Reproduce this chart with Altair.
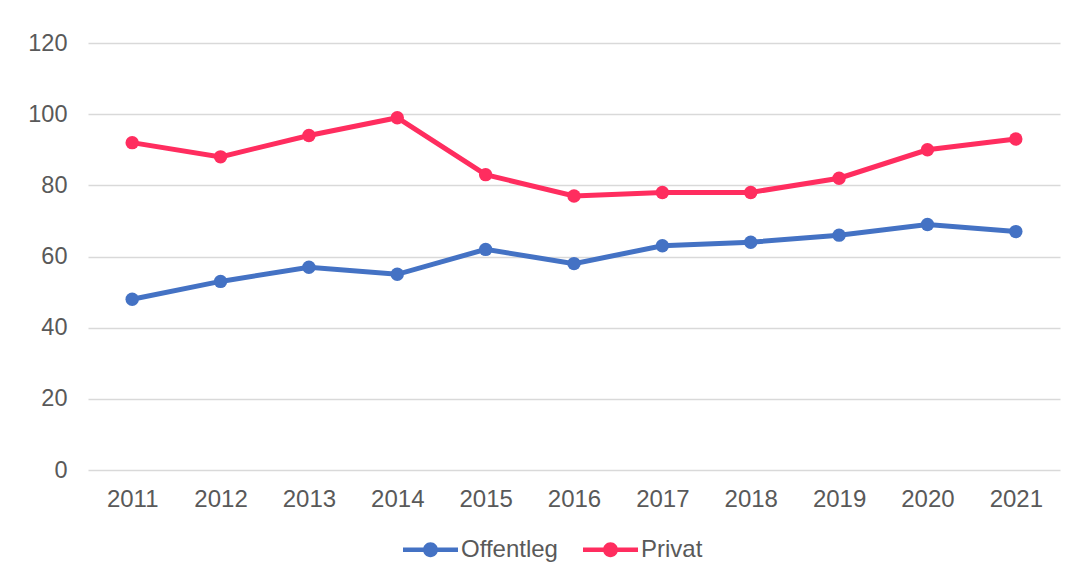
import altair as alt
import pandas as pd

years = [str(y) for y in range(2011, 2022)]
offentleg = [48, 53, 57, 55, 62, 58, 63, 64, 66, 69, 67]
privat = [92, 88, 94, 99, 83, 77, 78, 78, 82, 90, 93]
series = ["Offentleg", "Privat"]
colors = ["#4472C4", "#FF2D5F"]
y_ticks = [0, 20, 40, 60, 80, 100, 120]

rows = []
for i, yr in enumerate(years):
    rows.append({"year": yr, "series": "Offentleg", "value": offentleg[i]})
    rows.append({"year": yr, "series": "Privat", "value": privat[i]})
df = pd.DataFrame(rows)

FONT = "Liberation Sans"
TXT = "#595959"

x_enc = alt.X("year:N", sort=years, title=None,
              scale=alt.Scale(paddingInner=0, paddingOuter=0.5),
              axis=alt.Axis(labelAngle=0, domain=False, ticks=False, grid=False,
                            labelPadding=17, labelFontSize=24, labelColor=TXT, labelFont=FONT))
y_enc = alt.Y("value:Q", title=None,
              scale=alt.Scale(domain=[0, 120], nice=False),
              axis=alt.Axis(values=y_ticks, domain=False, ticks=False, grid=True,
                            gridColor="#D9D9D9", gridWidth=1.5, labelPadding=21,
                            labelFontSize=23.5, labelColor=TXT, labelFont=FONT))
color_scale = alt.Scale(domain=series, range=colors)

sym = ("M-1,-0.08L-0.2,-0.08L-0.2,0.08L-1,0.08Z "
       "M0.2,-0.08L1,-0.08L1,0.08L0.2,0.08Z "
       "M0.27,0A0.27,0.27,0,1,1,-0.27,0A0.27,0.27,0,1,1,0.27,0Z")

legend = alt.Legend(title=None, orient="none", direction="horizontal",
                    legendX=315, legendY=479,
                    symbolType=sym, symbolSize=3025,
                    symbolStrokeWidth=0, symbolOpacity=1,
                    labelFontSize=24, labelColor=TXT, labelFont=FONT,
                    labelOffset=3, columnPadding=25)
color_enc = alt.Color("series:N", scale=color_scale, legend=legend)

lines = alt.Chart(df).mark_line(strokeWidth=5).encode(
    x=x_enc, y=y_enc, color=color_enc,
)
points = alt.Chart(df).mark_point(filled=True, size=180, opacity=1).encode(
    x=x_enc, y=y_enc, color=color_enc,
)

chart = alt.layer(lines, points).properties(
    width=972, height=427,
    autosize=alt.AutoSizeParams(type="none"),
    padding={"left": 80, "top": 35, "right": 9, "bottom": 100},
).configure(font=FONT).configure_view(stroke=None)

chart.save("out.html", embed_options={"renderer": "svg", "actions": False})
